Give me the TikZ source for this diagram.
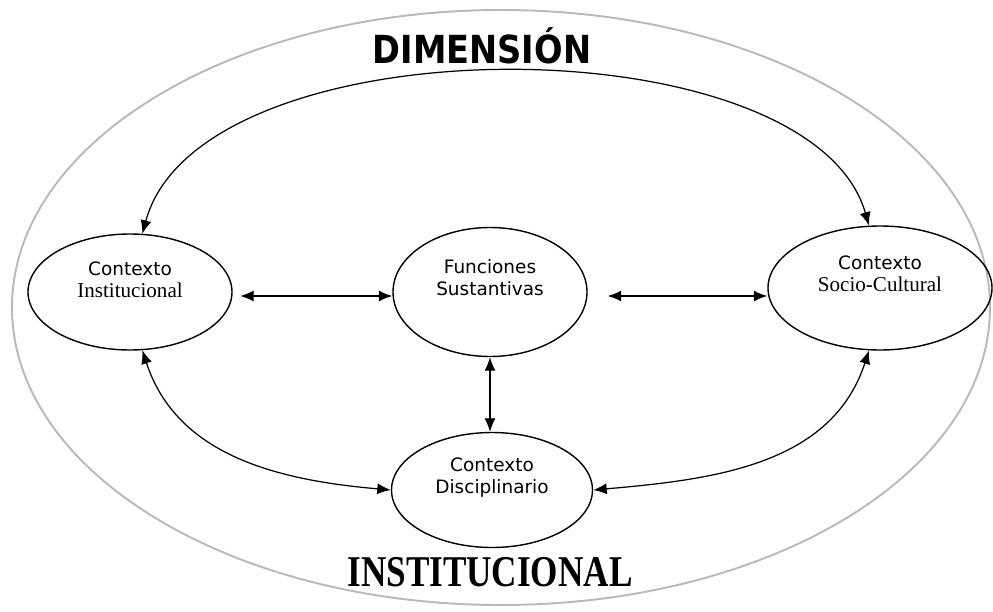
\documentclass[tikz,border=0pt]{standalone}
\usepackage{fontspec}
\setmainfont{Liberation Serif}
\setsansfont{DejaVu Sans}
\usetikzlibrary{shapes.geometric,arrows.meta}
\tikzset{
  ctx/.style={ellipse,draw,line width=0.8pt},
  lbl/.style={yshift=0.24cm,align=center,font=\sffamily\fontsize{10.5}{12.5}\selectfont},
  link/.style={{Latex[length=2.7mm,width=2.2mm]}-{Latex[length=2.7mm,width=2.2mm]},line width=0.7pt},
}
\newcommand{\serifline}[1]{{\rmfamily\fontsize{12}{12.5}\selectfont #1}}

\begin{document}
\begin{tikzpicture}
    \useasboundingbox (0,0) rectangle (19.86,-12.24);
    \draw[gray!55,line width=1.1pt] (10.02,-6.15) ellipse [x radius=9.78,y radius=5.95];
    \node[font=\sffamily\bfseries\fontsize{22}{24}\selectfont] (dim) at (9.64,-0.92) {\scalebox{0.87}[1]{DIMENSIÓN}};
    \node[font=\bfseries\fontsize{25}{27}\selectfont] (instit) at (9.8,-11.44) {\scalebox{0.8}[1]{INSTITUCIONAL}};
    \node[ctx,minimum width=4.08cm,minimum height=2.32cm,
        label={[lbl]center:Contexto\\\serifline{Institucional}}] (inst) at (2.6,-5.84) {};
    \node[ctx,minimum width=3.88cm,minimum height=2.58cm,
        label={[lbl,yshift=0.04cm]center:Funciones\\Sustantivas}] (func) at (9.8,-5.84) {};
    \node[ctx,minimum width=4.48cm,minimum height=2.48cm,
        label={[lbl,yshift=0.04cm]center:Contexto\\\serifline{Socio-Cultural}}] (soc) at (17.6,-5.76) {};
    \node[ctx,minimum width=4.02cm,minimum height=2.3cm,
        label={[lbl]center:Contexto\\Disciplinario}] (disc) at (9.84,-9.8) {};
    \draw[link] (inst.78) .. controls (4.0,-0.4) and (16.2,-0.4) .. (soc.100);
    \draw[link,shorten <=0.15cm] ([yshift=-0.08cm]inst.east) -- ([yshift=-0.08cm]func.west);
    \draw[link,shorten <=0.4cm] ([yshift=-0.08cm]func.east) -- ([yshift=-0.08cm]func.east -| soc.west);
    \draw[link] (func.south) -- (func.south |- disc.north);
    \draw[link] (inst.-78) to[out=-72,in=175] (disc.west);
    \draw[link] (soc.-100) to[out=-108,in=5] (disc.east);
\end{tikzpicture}
\end{document}
